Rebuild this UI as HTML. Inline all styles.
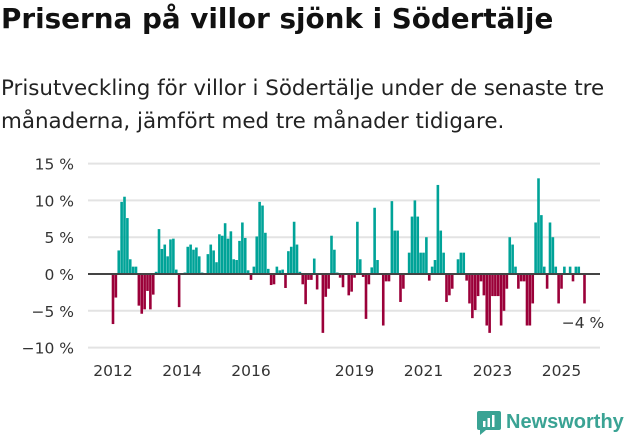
<!DOCTYPE html>
<html><head><meta charset="utf-8"><style>
body{margin:0;width:631px;height:439px;background:#fff;font-family:"DejaVu Sans","Liberation Sans",sans-serif;overflow:hidden;position:relative}
h1{position:absolute;left:1px;top:2px;margin:0;font-size:27.8px;font-weight:bold;color:#111;white-space:nowrap;letter-spacing:0px}
p{position:absolute;left:1px;top:72px;margin:0;font-size:21.4px;line-height:33px;color:#222;white-space:nowrap}
</style></head><body>
<h1>Priserna på villor sjönk i Södertälje</h1>
<p>Prisutveckling för villor i Södertälje under de senaste tre<br>månaderna, jämfört med tre månader tidigare.</p>
<svg id="chart" width="631" height="439" style="position:absolute;left:0;top:0"></svg>
<script>
const values=[-6.8,-3.2,3.2,9.8,10.5,7.6,2.0,1.0,1.0,-4.3,-5.4,-4.8,-2.3,-4.8,-2.8,0.3,6.1,3.4,4.0,2.4,4.7,4.8,0.6,-4.5,0,0.2,3.7,4.0,3.3,3.6,2.4,0.2,0,2.7,4.0,3.2,1.6,5.4,5.2,6.9,4.8,5.8,
2.0,1.9,4.5,7.0,4.9,0.5,-0.8,1.0,5.1,9.8,9.3,5.6,0.7,-1.5,-1.4,1.0,0.5,0.6,-1.9,3.1,3.7,7.1,4.0,0.3,-1.4,-4.1,-0.8,-0.8,2.1,-2.1,0,-8.0,-3.1,-2.0,5.2,3.3,0.2,-0.5,-1.8,0,-2.9,-2.4,-0.5,
7.1,2.0,-0.4,-6.1,-1.4,0.9,9.0,1.9,0,-7.0,-1.0,-1.0,9.9,5.9,5.9,-3.8,-2.0,0,2.9,7.8,10,7.8,2.9,2.9,5.0,-0.9,1.0,1.9,12.1,5.9,2.9,-3.8,-2.9,-2.0,0,2.0,2.9,2.9,-0.9,-4.0,-6.0,-4.9,-3.0,-1.0,-2.9,
-7,-8,-3,-3,-3,-7,-5,-2,5,4,1,-2,-1,-1,-7,-7,-4,7,13,8,1,-2,7,5,1,-4,-2,1,0,1,-1,1,1,0,-4];
const startYear=2012;
const yTicks=[15,10,5,0,-5,-10];
const xTickYears=[2012,2014,2016,2019,2021,2023,2025];
const lastLabel="−4 %";
const NS="http://www.w3.org/2000/svg";
const svg=document.getElementById('chart');
const y=v=>274-v*7.36;
const xm=i=>113+i*2.875;
const xy=yr=>113+(yr-startYear)*34.5;
function mk(t,a){const e=document.createElementNS(NS,t);for(const k in a)e.setAttribute(k,a[k]);svg.appendChild(e);return e;}
yTicks.forEach(t=>{
 if(t!==0){const g=mk('line',{x1:88,x2:600,y1:y(t),y2:y(t),stroke:'#e3e3e3','stroke-width':2});
 
 }
 const l=mk('text',{x:74,y:y(t)+6,'text-anchor':'end','font-size':15.5,fill:'#333'});
 l.textContent=(t<0?'−'+(-t):t)+' %';
 
 
});
values.forEach((v,i)=>{
 const r=mk('rect',{x:xm(i)-1.3,width:2.6,y:Math.min(y(v),274),height:Math.abs(y(v)-274),fill:v>=0?'#00a398':'#9b0039'});
 
 
});
const z=mk('line',{x1:88,x2:600,y1:274,y2:274,stroke:'#444','stroke-width':2});


xTickYears.forEach(yr=>{
 const t=mk('text',{x:xy(yr),y:376,'text-anchor':'middle','font-size':15.5,fill:'#333'});
 t.textContent=yr;
 
 
});
const a=mk('text',{x:583,y:328,'text-anchor':'middle','font-size':15.5,fill:'#333'});
a.textContent=lastLabel;


</script>
<div style="position:absolute;left:476px;top:409px;display:flex;align-items:center">
<svg width="26" height="27"><path d="M3 2h20a2 2 0 0 1 2 2v15a2 2 0 0 1-2 2H10l-6 5v-5H3a2 2 0 0 1-2-2V4a2 2 0 0 1 2-2z" fill="#3aa394"/><rect x="7" y="12" width="2.5" height="6" fill="#fff"/><rect x="11.5" y="9" width="2.5" height="9" fill="#fff"/><rect x="16" y="6" width="2.5" height="12" fill="#fff"/></svg>
<span style="font-size:20px;font-weight:bold;color:#3aa394;margin-left:4px;font-family:'Liberation Sans',sans-serif">Newsworthy</span>
</div>
</body></html>
